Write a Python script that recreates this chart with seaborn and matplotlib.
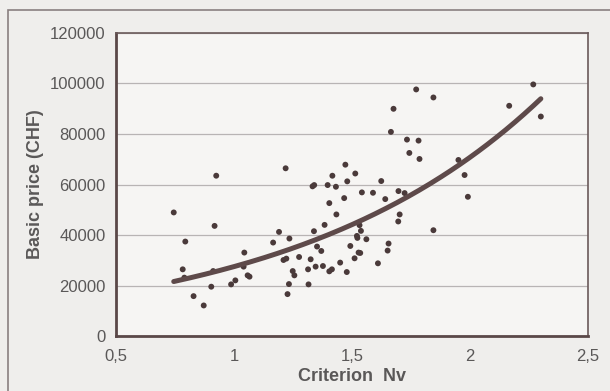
import numpy as np
import pandas as pd
import matplotlib
matplotlib.use("Agg")
import matplotlib.pyplot as plt
import seaborn as sns
from matplotlib.patches import Rectangle
from matplotlib.ticker import FuncFormatter

criterion_nv = [0.745, 0.925, 0.918, 0.794, 0.783, 0.790, 0.829, 0.872, 0.904, 0.912,
                1.044, 1.041, 1.006, 0.988, 1.058, 1.066, 1.219, 1.191, 1.166, 1.235,
                1.210, 1.222, 1.249, 1.256, 1.233, 1.227, 1.276, 1.316, 1.314, 1.325,
                1.339, 1.352, 1.370, 1.377, 1.346, 1.340, 1.333, 1.384, 1.397, 1.404,
                1.417, 1.432, 1.434, 1.404, 1.415, 1.450, 1.467, 1.472, 1.480, 1.514,
                1.493, 1.478, 1.511, 1.521, 1.528, 1.772, 1.845, 1.676, 1.665, 1.733,
                1.782, 1.743, 1.786, 1.951, 1.977, 1.991, 1.845, 2.166, 2.268, 2.300,
                1.624, 1.542, 1.589, 1.641, 1.697, 1.723, 1.702, 1.696, 1.532, 1.538,
                1.561, 1.655, 1.651, 1.535, 1.610, 1.523]
basic_price = [48970, 63500, 43650, 37460, 26470, 23180, 15870, 12180, 19600, 25790,
               33100, 27540, 22100, 20520, 24090, 23570, 66430, 41270, 37060, 38650,
               30160, 30710, 25790, 24090, 20640, 16670, 31350, 20520, 26470, 30440,
               41550, 35480, 33730, 27780, 27540, 59800, 59290, 44050, 59800, 52660,
               63490, 59130, 48180, 25680, 26470, 29130, 54640, 67860, 61270, 64370,
               35710, 25400, 30830, 39680, 33100, 97620, 94440, 89960, 80830, 77780,
               77380, 72500, 70120, 69720, 63770, 55160, 41940, 91150, 99600, 86900,
               61390, 56900, 56750, 54250, 57420, 56630, 48180, 45400, 43930, 41670,
               38370, 36670, 33890, 32940, 28850, 38900]

x_ticks = [0.5, 1.0, 1.5, 2.0, 2.5]
y_ticks = [0, 20000, 40000, 60000, 80000, 100000, 120000]

df = pd.DataFrame({"nv": criterion_nv, "price": basic_price})

# Exponential trendline (least squares on log values)
b, ln_a = np.polyfit(df["nv"], np.log(df["price"]), 1)
xs = np.linspace(min(criterion_nv), max(criterion_nv), 200)
trend = pd.DataFrame({"nv": xs, "price": np.exp(ln_a) * np.exp(b * xs)})

sns.set_style("white")
plt.rcParams["font.family"] = ["Liberation Sans", "DejaVu Sans"]

bg = "#efeeec"
dark = "#5a4848"
txt = "#5a5858"
fig = plt.figure(figsize=(6.1, 3.91), dpi=100, facecolor=bg)
ax = fig.add_axes([0.190, 0.140, 0.774, 0.776])
ax.set_facecolor("#f6f5f3")

# outer frame
fig.patches.append(Rectangle((0.013, -0.05), 1.2, 1.024, transform=fig.transFigure,
                             fill=False, edgecolor="#8a8080", linewidth=1.2))

ax.yaxis.grid(True, color="#b8b4b4", linewidth=0.9)
ax.set_axisbelow(True)

sns.scatterplot(data=df, x="nv", y="price", ax=ax, color="#4a3a3a", s=18,
                edgecolor="none", zorder=3)
sns.lineplot(data=trend, x="nv", y="price", ax=ax, color="#5e4a4a", linewidth=3.6,
             zorder=4)

ax.set_xlim(0.5, 2.5)
ax.set_ylim(0, 120000)
ax.set_xticks(x_ticks)
ax.set_yticks(y_ticks)
ax.xaxis.set_major_formatter(FuncFormatter(lambda v, p: (f"{v:g}").replace(".", ",")))
ax.yaxis.set_major_formatter(FuncFormatter(lambda v, p: f"{int(v)}"))
ax.tick_params(axis="y", direction="inout", length=7, width=1.5, color=dark,
               labelsize=12, labelcolor=txt, pad=4)
ax.tick_params(axis="x", direction="out", length=5, width=1.5, color=dark,
               labelsize=12, labelcolor=txt, pad=4)

for side in ["left", "bottom"]:
    ax.spines[side].set_color(dark)
    ax.spines[side].set_linewidth(2.0)
for side in ["top", "right"]:
    ax.spines[side].set_color("#6a5a5a")
    ax.spines[side].set_linewidth(1.2)

ax.set_xlabel("Criterion  Nv", fontsize=13, fontweight="bold", color=txt, labelpad=3)
ax.set_ylabel("Basic price (CHF)", fontsize=13, fontweight="bold", color=txt, labelpad=4)

fig.savefig("out.png", dpi=100, facecolor=bg)
